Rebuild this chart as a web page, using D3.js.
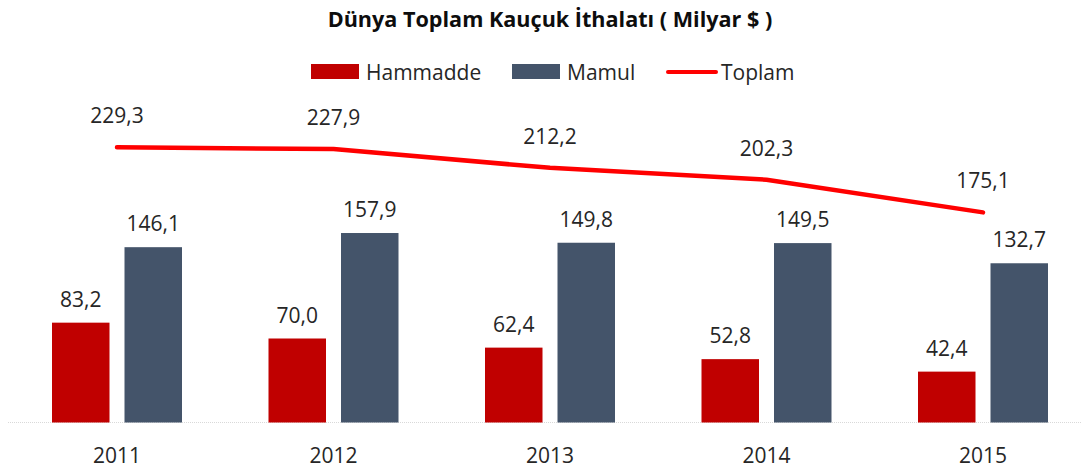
<!DOCTYPE html>
<html>
<head>
<meta charset="utf-8">
<script src="https://cdn.jsdelivr.net/npm/d3@7/dist/d3.min.js"></script>
<style>
  body { margin: 0; background: #fff; }
  text { font-family: "Open Sans", sans-serif; fill: #262626; }
</style>
</head>
<body>
<svg id="chart"></svg>
<script>
// data
var years = ["2011", "2012", "2013", "2014", "2015"];
var hammadde = [83.2, 70.0, 62.4, 52.8, 42.4];
var mamul = [146.1, 157.9, 149.8, 149.5, 132.7];
var toplam = [229.3, 227.9, 212.2, 202.3, 175.1];

const width = 1081, height = 473;
const baseY = 422.5;
const fmt = v => d3.format(".1f")(v).replace(".", ",");

const svg = d3.select("#chart")
    .attr("width", width)
    .attr("height", height);

const x = d3.scaleBand()
    .domain(years)
    .range([8.75, 1091.25]);

const y = d3.scaleLinear()
    .domain([0, 250])
    .range([baseY, baseY - 300]);

const barW = 57.5, gap = 15;

// title
svg.append("text")
    .attr("x", 550)
    .attr("y", 27)
    .attr("text-anchor", "middle")
    .style("font-size", "21.6px")
    .style("font-weight", "bold")
    .style("fill", "#0d0d0d")
    .text("Dünya Toplam Kauçuk İthalatı ( Milyar $ )");

// axis line
svg.append("line")
    .attr("x1", 8).attr("x2", width)
    .attr("y1", baseY).attr("y2", baseY)
    .style("stroke", "#d9d9d9")
    .style("stroke-width", 1)
    .style("stroke-dasharray", "1,1");

// x labels
svg.selectAll(".xlab")
    .data(years)
    .enter().append("text")
    .attr("class", "xlab")
    .attr("x", d => x(d) + x.bandwidth() / 2)
    .attr("y", 463)
    .attr("text-anchor", "middle")
    .style("font-size", "21px")
    .text(d => d);

// bars
function drawBars(values, color, offset) {
    const g = svg.append("g");
    g.selectAll("rect")
        .data(values)
        .enter().append("rect")
        .attr("x", (d, i) => x(years[i]) + x.bandwidth() / 2 + offset)
        .attr("y", d => y(d))
        .attr("width", barW)
        .attr("height", d => baseY - y(d))
        .style("fill", color);
    g.selectAll("text")
        .data(values)
        .enter().append("text")
        .attr("x", (d, i) => x(years[i]) + x.bandwidth() / 2 + offset + barW / 2)
        .attr("y", d => y(d) - 16)
        .attr("text-anchor", "middle")
        .style("font-size", "21px")
        .text(d => fmt(d));
}
drawBars(hammadde, "#c00000", -gap / 2 - barW);
drawBars(mamul, "#44546a", gap / 2);

// total line
const line = d3.line()
    .x((d, i) => x(years[i]) + x.bandwidth() / 2)
    .y(d => y(d));

svg.append("path")
    .datum(toplam)
    .attr("d", line)
    .style("fill", "none")
    .style("stroke", "#ff0000")
    .style("stroke-width", 4.5)
    .style("stroke-linecap", "round")
    .style("stroke-linejoin", "round");

svg.selectAll(".tlab")
    .data(toplam)
    .enter().append("text")
    .attr("class", "tlab")
    .attr("x", (d, i) => x(years[i]) + x.bandwidth() / 2)
    .attr("y", d => y(d) - 24)
    .attr("text-anchor", "middle")
    .style("font-size", "21px")
    .text(d => fmt(d));

// legend
const legend = svg.append("g");
const items = [
    {name: "Hammadde", color: "#c00000", type: "rect", x: 311},
    {name: "Mamul", color: "#44546a", type: "rect", x: 512},
    {name: "Toplam", color: "#ff0000", type: "line", x: 666}
];
items.forEach(function(it) {
    if (it.type === "rect") {
        legend.append("rect")
            .attr("x", it.x).attr("y", 64)
            .attr("width", 48).attr("height", 15)
            .style("fill", it.color);
    } else {
        legend.append("line")
            .attr("x1", it.x + 2).attr("x2", it.x + 50)
            .attr("y1", 72).attr("y2", 72)
            .style("stroke", it.color)
            .style("stroke-width", 4)
            .style("stroke-linecap", "round");
    }
    legend.append("text")
        .attr("x", it.x + 55)
        .attr("y", 79.5)
        .style("font-size", "21px")
        .text(it.name);
});
</script>
</body>
</html>
